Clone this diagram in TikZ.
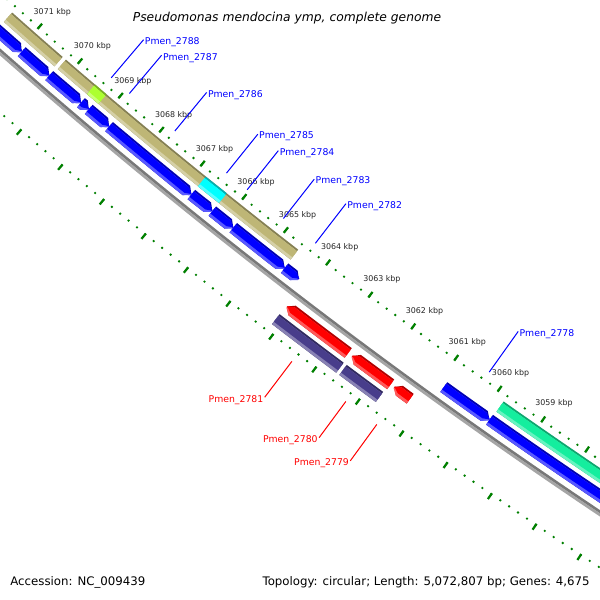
\documentclass[tikz,border=0pt]{standalone}
\usepackage{fontspec}
\setmainfont{DejaVu Sans}

\definecolor{cdsblue}{RGB}{0,0,255}
\definecolor{cdsred}{RGB}{255,0,0}
\definecolor{rrnatan}{RGB}{190,182,118}
\definecolor{miscpurple}{RGB}{72,61,139}
\definecolor{trnateal}{RGB}{20,238,158}
\definecolor{hitlime}{RGB}{173,255,47}
\definecolor{hitcyan}{RGB}{0,255,255}
\definecolor{tickgreen}{RGB}{0,128,0}
\definecolor{bbdark}{RGB}{120,120,120}
\definecolor{bblight}{RGB}{165,165,165}

% position (kbp) -> angle, offset from backbone -> radius
\tikzset{declare function={kang(\p)=124.22+0.5385*((\p)-3058); krad(\d)=5711-(\d);}}

% one layer of a feature, flat ends
\newcommand{\bandbox}[5]{%
  \fill[#5] ({kang(#1)}:{krad(#3)})
    arc[start angle={kang(#1)}, end angle={kang(#2)}, radius={krad(#3)}]
    -- ({kang(#2)}:{krad(#4)})
    arc[start angle={kang(#2)}, end angle={kang(#1)}, radius={krad(#4)}] -- cycle;}
% tip at the lower kbp end
\newcommand{\bandtipdn}[5]{%
  \fill[#5] ({kang(#1)}:{krad(#3)})
    arc[start angle={kang(#1)}, end angle={kang(#2+0.12)}, radius={krad(#3)}]
    -- ({kang(#2)}:{krad((#3+#4)/2)})
    -- ({kang(#2+0.12)}:{krad(#4)})
    arc[start angle={kang(#2+0.12)}, end angle={kang(#1)}, radius={krad(#4)}] -- cycle;}
% tip at the higher kbp end
\newcommand{\bandtipup}[5]{%
  \fill[#5] ({kang(#1-0.12)}:{krad(#3)})
    arc[start angle={kang(#1-0.12)}, end angle={kang(#2)}, radius={krad(#3)}]
    -- ({kang(#2)}:{krad(#4)})
    arc[start angle={kang(#2)}, end angle={kang(#1-0.12)}, radius={krad(#4)}]
    -- ({kang(#1)}:{krad((#3+#4)/2)}) -- cycle;}
% shaded feature: kind, start, end, low offset, high offset, colour
\newcommand{\feat}[6]{%
  \csname band#1\endcsname{#2}{#3}{#4}{#5}{#6!70!black}%
  \csname band#1\endcsname{#2}{#3}{#4}{#5-2}{#6!65!white}%
  \csname band#1\endcsname{#2}{#3}{#4+3}{#5-2}{#6}}

\begin{document}
\begin{tikzpicture}[
    x=0.02cm, y=-0.02cm,
    tickdot/.style={fill=tickgreen},
    tickdash/.style={draw=tickgreen, line width=0.045cm},
    backbone/.style={line width=0.055cm},
    kbplabel/.style={font=\fontsize{4.5}{5.4}\selectfont, text=black!85, inner sep=0pt},
    genelabel/.style={font=\fontsize{5.3}{6.4}\selectfont, inner sep=0.6pt},
    fwdlink/.style={draw=cdsblue, line width=0.02cm},
    revlink/.style={draw=cdsred, line width=0.02cm},
    infotext/.style={font=\fontsize{6.7}{8}\selectfont, inner sep=0pt}
  ]

  \useasboundingbox (0,0) rectangle (600,600);
  \fill[white] (0,0) rectangle (600,600);

  \begin{scope}
    \clip (0,0) rectangle (600,600);
    \begin{scope}[shift={(3773,-4235)}]

      % tick rings
      \foreach \i in {0,...,100} {
        \pgfmathsetmacro{\tk}{3054+0.2*\i}
        \fill[tickdot] ({kang(\tk)}:{krad(44)}) circle[radius=1.3];
        \fill[tickdot] ({kang(\tk)}:{krad(-45.5)}) circle[radius=1.3];
      }
      \foreach \k in {3054,...,3074} {
        \draw[tickdash] ({kang(\k)}:{krad(42)}) -- ({kang(\k)}:{krad(49)});
        \draw[tickdash] ({kang(\k)}:{krad(-44.5)}) -- ({kang(\k)}:{krad(-51.5)});
      }

      % backbone
      \draw[backbone, draw=bbdark] ({kang(3074)}:{krad(1.3)})
        arc[start angle={kang(3074)}, end angle={kang(3054)}, radius={krad(1.3)}];
      \draw[backbone, draw=bblight] ({kang(3074)}:{krad(-1.3)})
        arc[start angle={kang(3074)}, end angle={kang(3054)}, radius={krad(-1.3)}];

      % outer track
      \feat{box}{3071.56}{3070.30}{25}{37.5}{rrnatan}
      \feat{box}{3070.22}{3064.59}{25}{37.5}{rrnatan}
      \feat{box}{3069.50}{3069.22}{25}{37.5}{hitlime}
      \feat{box}{3066.80}{3066.30}{25}{37.5}{hitcyan}
      \feat{box}{3059.80}{3054.00}{25}{37.5}{trnateal}

      % blue CDS
      \feat{tipdn}{3072.50}{3070.94}{8.5}{20.5}{cdsblue}
      \feat{tipdn}{3070.94}{3070.26}{8.5}{20.5}{cdsblue}
      \feat{tipdn}{3070.26}{3069.48}{8.5}{20.5}{cdsblue}
      \feat{tipdn}{3069.48}{3069.29}{8.5}{20.5}{cdsblue}
      \feat{tipdn}{3069.29}{3068.79}{8.5}{20.5}{cdsblue}
      \feat{tipdn}{3068.79}{3066.80}{8.5}{20.5}{cdsblue}
      \feat{tipdn}{3066.80}{3066.30}{8.5}{20.5}{cdsblue}
      \feat{tipdn}{3066.30}{3065.80}{8.5}{20.5}{cdsblue}
      \feat{tipdn}{3065.80}{3064.58}{8.5}{20.5}{cdsblue}
      \feat{tipdn}{3064.58}{3064.24}{8.5}{20.5}{cdsblue}
      \feat{tipdn}{3060.87}{3059.82}{8.5}{20.5}{cdsblue}
      \feat{tipdn}{3059.82}{3054.00}{8.5}{20.5}{cdsblue}

      % red CDS
      \feat{tipup}{3064.11}{3062.68}{-20.5}{-8.5}{cdsred}
      \feat{tipup}{3062.59}{3061.70}{-20.5}{-8.5}{cdsred}
      \feat{tipup}{3061.62}{3061.25}{-20.5}{-8.5}{cdsred}

      % inner track
      \feat{box}{3064.13}{3062.64}{-37.5}{-25}{miscpurple}
      \feat{box}{3062.57}{3061.73}{-37.5}{-25}{miscpurple}

      % kbp labels
      \foreach \k in {3059,...,3071}
        \node[kbplabel] (k\k) at ({kang(\k)}:{krad(64.5)}) {\k\ kbp};

      % gene labels
      \foreach \g/\p in {2788/3069.35, 2787/3068.90, 2786/3067.79, 2785/3066.54,
                         2784/3066.04, 2783/3065.17, 2782/3064.41, 2778/3060.34} {
        \coordinate (c\g) at ({kang(\p)}:{krad(53)});
        \node[genelabel, text=cdsblue, anchor=mid west] (l\g) at ({kang(\p)}:{krad(103)}) {Pmen\_\g};
        \draw[fwdlink] (c\g) -- (l\g.mid west);
      }
      \foreach \g/\p in {2781/3063.42, 2780/3062.18, 2779/3061.47} {
        \coordinate (c\g) at ({kang(\p)}:{krad(-55)});
        \node[genelabel, text=cdsred, anchor=mid east] (l\g) at ({kang(\p)}:{krad(-100)}) {Pmen\_\g};
        \draw[revlink] (c\g) -- (l\g.mid east);
      }
    \end{scope}
  \end{scope}

  % title and footer
  \node[font=\fontsize{7}{8.4}\selectfont\itshape, inner sep=0pt] (title) at (287,18)
    {Pseudomonas mendocina ymp, complete genome};
  \node[infotext, anchor=mid west] (accession) at (10,581) {Accession: NC\_009439};
  \node[infotext, anchor=mid east] (topology) at (590,581)
    {Topology: circular; Length: 5,072,807 bp; Genes: 4,675};

\end{tikzpicture}
\end{document}
